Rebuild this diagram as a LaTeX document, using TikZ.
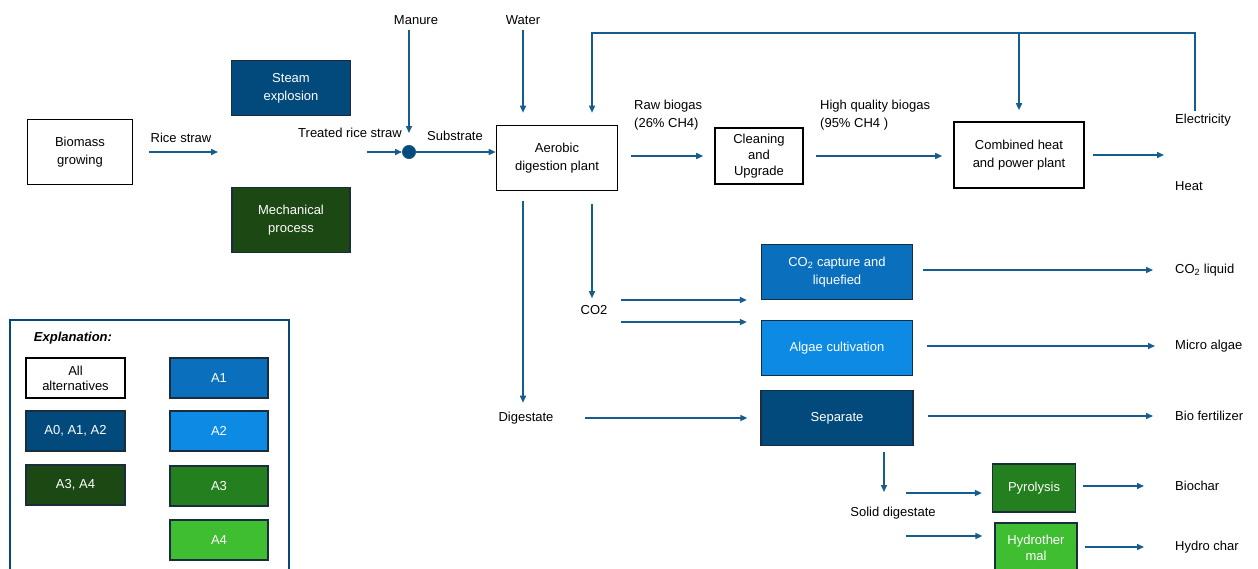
\documentclass[tikz,border=0pt]{standalone}
\usepackage{fontspec}
\setmainfont{Liberation Sans}
\usetikzlibrary{positioning,arrows.meta,calc}
\definecolor{flowblue}{RGB}{22,92,140}
\definecolor{navyblue}{RGB}{2,74,124}
\definecolor{midblue}{RGB}{10,112,190}
\definecolor{skyblue}{RGB}{12,138,228}
\definecolor{darkgreen}{RGB}{28,72,20}
\definecolor{grassgreen}{RGB}{36,128,30}
\definecolor{limegreen}{RGB}{64,190,50}
\definecolor{edgegray}{RGB}{25,45,60}

\begin{document}
\begin{tikzpicture}[x=1pt, y=-1pt, font=\fontsize{13}{18}\selectfont,
    >={Triangle[length=7pt,width=6pt]},
    box/.style={rectangle, draw=black, line width=1.6pt, fill=white, align=center, inner sep=2pt},
    alt/.style={rectangle, draw=edgegray, line width=1.3pt, text=white, align=center, inner sep=2pt},
    flow/.style={->, draw=flowblue, line width=1.5pt},
    lbl/.style={align=center, inner sep=3pt},
    outlbl/.style={anchor=west, inner sep=3pt}]
    \useasboundingbox (0,0) rectangle (1258,568);

    % main line
    \node (biomass) [box, minimum width=105pt, minimum height=65pt] at (80,152) {Biomass\\growing};
    \node (steam) [alt, fill=navyblue, minimum width=119pt, minimum height=55pt] at (291,88) {Steam\\explosion};
    \node (mech) [alt, fill=darkgreen, minimum width=118pt, minimum height=65pt] at (291,220) {Mechanical\\process};
    \node (mix) [circle, draw=flowblue, fill=navyblue, line width=1pt, minimum size=13pt, inner sep=0pt] at (409,152) {};
    \node (aerobic) [box, minimum width=121pt, minimum height=65pt] at (557,158) {Aerobic\\digestion plant};
    \node (clean) [box, minimum width=88pt, minimum height=56pt, font=\fontsize{13}{16}\selectfont] at (759,156) {Cleaning\\and\\Upgrade};
    \node (chp) [box, minimum width=130pt, minimum height=66pt] at (1019,155) {Combined heat\\and power plant};

    % treatment of gas and digestate
    \node (capture) [alt, fill=midblue, minimum width=151pt, minimum height=55pt] at (837,272) {CO\textsubscript{2} capture and\\liquefied};
    \node (algae) [alt, fill=skyblue, minimum width=151pt, minimum height=55pt] at (837,348) {Algae cultivation};
    \node (separate) [alt, fill=navyblue, minimum width=152pt, minimum height=55pt] at (837,418) {Separate};
    \node (pyro) [alt, fill=grassgreen, minimum width=83pt, minimum height=48pt] at (1034,488) {Pyrolysis};
    \node (hydro) [alt, fill=limegreen, minimum width=82pt, minimum height=50pt, font=\fontsize{13}{16}\selectfont] at (1036,548) {Hydrother\\mal};

    % labels
    \node (ricestraw) [lbl] at (181,138) {Rice straw};
    \node (treated) [lbl] at (350,133) {Treated rice straw};
    \node (manure) [lbl] at (416,20) {Manure};
    \node (substrate) [lbl] at (455,136) {Substrate};
    \node (water) [lbl] at (523,20) {Water};
    \node (rawgas) [lbl, anchor=west, align=left] at (631,115) {Raw biogas\\(26\% CH4)};
    \node (hqgas) [lbl, anchor=west, align=left] at (817,115) {High quality biogas\\(95\% CH4 )};
    \node (electricity) [outlbl] at (1172,120) {Electricity};
    \node (heat) [outlbl] at (1172,186) {Heat};
    \node (co2lab) [lbl] at (594,310) {CO2};
    \node (digestate) [lbl] at (526,418) {Digestate};
    \node (soliddig) [lbl] at (893,513) {Solid digestate};
    \node (co2liq) [outlbl] at (1172,270) {CO\textsubscript{2} liquid};
    \node (microalgae) [outlbl] at (1172,346) {Micro algae};
    \node (biofert) [outlbl] at (1172,416) {Bio fertilizer};
    \node (biochar) [outlbl] at (1172,486) {Biochar};
    \node (hydrochar) [outlbl] at (1172,547) {Hydro char};

    % free ends
    \coordinate (rsEnd) at (218,152);
    \coordinate (trsStart) at (367,152);
    \coordinate (fbRight) at (1195,33);
    \coordinate (fbLeft) at (592,33);
    \coordinate (elecIn) at (1164,150);
    \coordinate (co2a) at (621,300);
    \coordinate (co2b) at (621,322);
    \coordinate (digStart) at (585,418);
    \coordinate (sdDown) at (884,492);
    \coordinate (sdA) at (906,493);
    \coordinate (sdB) at (906,536);

    % connectors
    \draw [flow, shorten <=16pt] (biomass.east) -- (rsEnd);
    \draw [flow] (trsStart) -- (mix.west);
    \draw [flow, shorten <=2pt, shorten >=12pt] (mix |- manure.south) -- (mix.north);
    \draw [flow] (mix.east) -- (mix -| aerobic.west);
    \draw [flow, shorten <=2pt, shorten >=12pt] (water.south) -- (water.south |- aerobic.north);
    \draw [flow, shorten >=12pt] (electricity.north -| fbRight) -- (fbRight) -- (fbLeft) -- (fbLeft |- aerobic.north);
    \draw [flow, shorten >=11pt] (chp.north |- fbRight) -- (chp.north);
    \draw [flow, shorten <=13pt, shorten >=11pt] (aerobic.east |- clean) -- (clean.west);
    \draw [flow, shorten <=12pt, shorten >=11pt] (clean.east) -- (clean.east -| chp.west);
    \draw [flow, shorten <=8pt] (chp.east) -- (elecIn |- chp.east);
    \draw [flow, shorten <=10pt, shorten >=6pt] (aerobic.south -| water) -- (digestate.north -| water);
    \draw [flow, shorten <=13pt, shorten >=4pt] (aerobic.south -| fbLeft) -- (co2lab.north -| fbLeft);
    \draw [flow, shorten >=14pt] (co2a) -- (co2a -| capture.west);
    \draw [flow, shorten >=14pt] (co2b) -- (co2b -| algae.west);
    \draw [flow, shorten >=13pt] (digStart) -- (separate.west);
    \draw [flow, shorten <=10pt, shorten >=19pt] (co2liq.west -| capture.east) -- (co2liq.west);
    \draw [flow, shorten <=14pt, shorten >=17pt] (microalgae.west -| algae.east) -- (microalgae.west);
    \draw [flow, shorten <=14pt, shorten >=19pt] (biofert.west -| separate.east) -- (biofert.west);
    \draw [flow, shorten <=6pt] (separate.south -| sdDown) -- (sdDown);
    \draw [flow, shorten >=10pt] (sdA) -- (sdA -| pyro.west);
    \draw [flow, shorten >=12pt] (sdB) -- (sdB -| hydro.west);
    \draw [flow, shorten <=7pt, shorten >=28pt] (biochar.west -| pyro.east) -- (biochar.west);
    \draw [flow, shorten <=7pt, shorten >=28pt] (hydrochar.west -| hydro.east) -- (hydrochar.west);

    % legend
    \node (legend) [rectangle, draw=navyblue, line width=1.5pt, minimum width=279pt, minimum height=256pt] at (149.5,448) {};
    \node (explain) [lbl, font=\fontsize{13}{16}\selectfont\bfseries\itshape] at (73,338) {Explanation:};
    \node (allalt) [box, minimum width=99pt, minimum height=40pt, font=\fontsize{13}{15}\selectfont] at (75.5,378) {All\\alternatives};
    \node (altA012) [alt, fill=navyblue, minimum width=99pt, minimum height=40pt] at (75.5,431) {A0, A1, A2};
    \node (altA34) [alt, fill=darkgreen, minimum width=99pt, minimum height=40pt] at (75.5,485) {A3, A4};
    \node (altA1) [alt, fill=midblue, minimum width=98pt, minimum height=40pt] at (219,378) {A1};
    \node (altA2) [alt, fill=skyblue, minimum width=98pt, minimum height=40pt] at (219,431) {A2};
    \node (altA3) [alt, fill=grassgreen, minimum width=98pt, minimum height=40pt] at (219,486) {A3};
    \node (altA4) [alt, fill=limegreen, minimum width=98pt, minimum height=40pt] at (219,540) {A4};
\end{tikzpicture}
\end{document}
